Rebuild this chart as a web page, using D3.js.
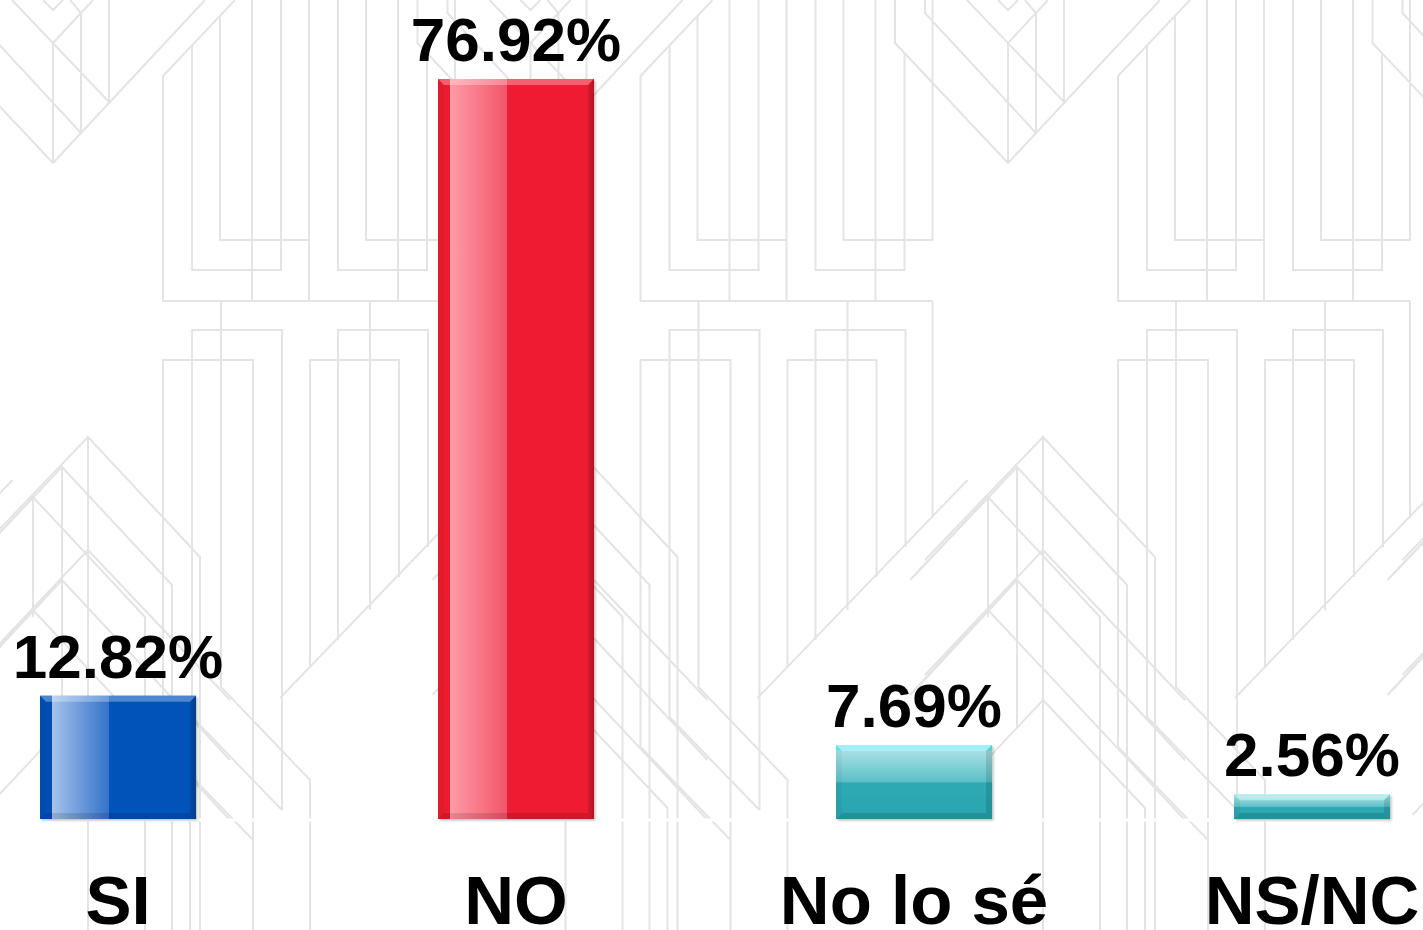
<!DOCTYPE html>
<html>
<head>
<meta charset="utf-8">
<script src="https://cdn.jsdelivr.net/npm/d3@7"></script>
<style>
  html, body { margin: 0; padding: 0; background: #ffffff; }
  svg { display: block; }
</style>
</head>
<body>
<svg id="chart" width="1423" height="930"></svg>
<script>
// ---- data ----
const categories = ["SI", "NO", "No lo sé", "NS/NC"];
const values = [12.82, 76.92, 7.69, 2.56];
const valueLabels = ["12.82%", "76.92%", "7.69%", "2.56%"];
const barStyles = ["blue", "red", "teal", "teal"];

const W = 1423, H = 930;
const svg = d3.select("#chart");

// ---- decorative background pattern (one tile, repeated) ----
const tileLines = [
  // top chevrons
  [[-60,0],[-60,43],[53,163]],
  [[-30,0],[-30,13],[81,133]],
  [[12,0],[109,102]],
  [[53,163],[205,0]],
  [[53,43],[93,0]],
  [[53,43],[53,163]],
  [[81,13],[81,133]],
  [[109,0],[109,102]],
  [[43,0],[53,10],[63,0]],
  [[70,0],[81,13]],
  // top U shapes
  [[235,0],[163,76],[163,301],[455,301]],
  [[192,46],[192,270],[281,270],[281,0]],
  [[220,16],[220,240],[309,240]],
  [[309,0],[309,301]],
  [[252,0],[252,301]],
  [[338,0],[338,270],[427,270],[427,53]],
  [[366,0],[366,240],[455,240],[455,0]],
  [[398,0],[398,301]],
  // lower group A
  [[253,930],[253,360],[163,360],[163,747],[253,840]],
  [[282,810],[282,330],[192,330],[192,717],[282,810]],
  [[221,301],[221,687],[310,780],[310,930]],
  // lower group B
  [[310,667],[310,360],[399,360],[399,577]],
  [[338,640],[338,330],[428,330],[428,547]],
  [[370,301],[370,610]],
  [[455,301],[455,518]],
  [[280,698],[490,480]],
  // lower chevrons set 1
  [[88,930],[88,437],[200,557],[200,930]],
  [[62,727],[62,467],[172,585],[172,930]],
  [[33,617],[33,497],[145,617],[145,930]],
  [[88,437],[-30,560]],
  [[62,467],[-40,575]],
  [[33,497],[-45,580]],
  // lower chevrons set 2
  [[88,550],[230,700]],
  [[62,580],[230,760]],
  [[33,610],[230,820]],
  [[88,550],[-30,675]],
  [[62,580],[-40,690]],
  [[33,610],[-45,695]],
  [[88,700],[190,808],[190,930]],
  [[88,700],[-20,815]]
];
const tileOffsets = [-477.5, 0, 477.5, 955, 1432.5];
const line = d3.line();
const bg = svg.append("g").attr("class", "background");
tileOffsets.forEach(t => {
  const g = bg.append("g").attr("transform", `translate(${t},0)`);
  g.selectAll("path").data(tileLines).join("path")
    .attr("d", d => line(d))
    .attr("fill", "none")
    .attr("stroke", "#e4e4e4")
    .attr("stroke-width", 2);
});

// ---- scales ----
const x = d3.scaleBand()
  .domain(categories)
  .range([-81, 1511])
  .paddingInner(0.608)
  .paddingOuter(0.304);
const y = d3.scaleLinear().domain([0, 85.13]).range([819, 0]);

// ---- gradients ----
const defs = svg.append("defs");
function hGrad(id, base, edge, light, mid) {
  const g = defs.append("linearGradient").attr("id", id)
    .attr("x1", "0").attr("y1", "0").attr("x2", "1").attr("y2", "0");
  [[0, edge],[0.075, edge],[0.08, light],[0.44, mid],[0.445, base],[0.97, base],[1, d3.color(base).darker(0.4)]]
    .forEach(([o,c]) => g.append("stop").attr("offset", o).attr("stop-color", c));
}
hGrad("g-blue", "#0552b8", "#0550b4", "#a6c2ea", "#3473cb");
hGrad("g-red", "#ee1c31", "#ec1a2e", "#ff9ba6", "#f2566a");
const tg = defs.append("linearGradient").attr("id", "g-teal")
  .attr("x1", "0").attr("y1", "0").attr("x2", "0").attr("y2", "1");
[[0,"#6fe9f3"],[0.07,"#6fe9f3"],[0.08,"#a7e0e4"],[0.5,"#5cc0c7"],[0.51,"#2eaab4"],[1,"#2aa5af"]]
  .forEach(([o,c]) => tg.append("stop").attr("offset", o).attr("stop-color", c));

const shadow = defs.append("filter").attr("id", "shadow")
  .attr("x", "-5%").attr("y", "-5%").attr("width", "115%").attr("height", "115%");
shadow.append("feDropShadow").attr("dx", 1.5).attr("dy", 1.5).attr("stdDeviation", 1.2)
  .attr("flood-color", "#000").attr("flood-opacity", 0.25);

// ---- white axis line ----
svg.append("line")
  .attr("x1", 0).attr("x2", W)
  .attr("y1", y(0) + 1).attr("y2", y(0) + 1)
  .attr("stroke", "#ffffff").attr("stroke-width", 3);

// ---- bars ----
const data = categories.map((c, i) => ({ c, v: values[i], label: valueLabels[i], style: barStyles[i] }));
const bars = svg.append("g").selectAll("g").data(data).join("g");

bars.append("rect")
  .attr("x", d => x(d.c))
  .attr("y", d => y(d.v))
  .attr("width", x.bandwidth())
  .attr("height", d => y(0) - y(d.v))
  .attr("fill", d => `url(#g-${d.style})`)
  .attr("filter", "url(#shadow)");

// bevel overlays
const bv = 6;
bars.each(function(d) {
  const g = d3.select(this);
  const x0 = x(d.c), x1 = x0 + x.bandwidth(), y0 = y(d.v), y1 = y(0);
  const b = Math.min(bv, (y1 - y0) / 2);
  g.append("path").attr("d", line([[x0,y0],[x1,y0],[x1-b,y0+b],[x0+b,y0+b]]) + "Z")
    .attr("fill", "#ffffff").attr("opacity", d.style === "teal" ? 0.35 : 0.3);
  g.append("path").attr("d", line([[x0,y1],[x1,y1],[x1-b,y1-b],[x0+b,y1-b]]) + "Z")
    .attr("fill", "#000000").attr("opacity", 0.12);
  g.append("path").attr("d", line([[x1,y0],[x1,y1],[x1-b,y1-b],[x1-b,y0+b]]) + "Z")
    .attr("fill", "#000000").attr("opacity", 0.12);
  g.append("path").attr("d", line([[x0,y0],[x0,y1],[x0+b,y1-b],[x0+b,y0+b]]) + "Z")
    .attr("fill", "#000000").attr("opacity", 0.04);
});

// value labels
bars.append("text")
  .attr("x", d => x(d.c) + x.bandwidth() / 2)
  .attr("y", d => y(d.v) - 18)
  .attr("text-anchor", "middle")
  .attr("font-family", "'Liberation Sans', Arial, sans-serif")
  .attr("font-weight", "bold")
  .attr("font-size", 62)
  .attr("fill", "#000")
  .text(d => d.label);

// category labels (axis)
const xAxis = d3.axisBottom(x).tickSize(0).tickPadding(0);
const ax = svg.append("g").attr("transform", `translate(0, ${y(0)})`).call(xAxis);
ax.select(".domain").remove();
ax.selectAll("text")
  .attr("y", 105)
  .attr("dy", null)
  .attr("font-family", "'Liberation Sans', Arial, sans-serif")
  .attr("font-weight", "bold")
  .attr("font-size", 69)
  .attr("fill", "#000");
</script>
</body>
</html>
